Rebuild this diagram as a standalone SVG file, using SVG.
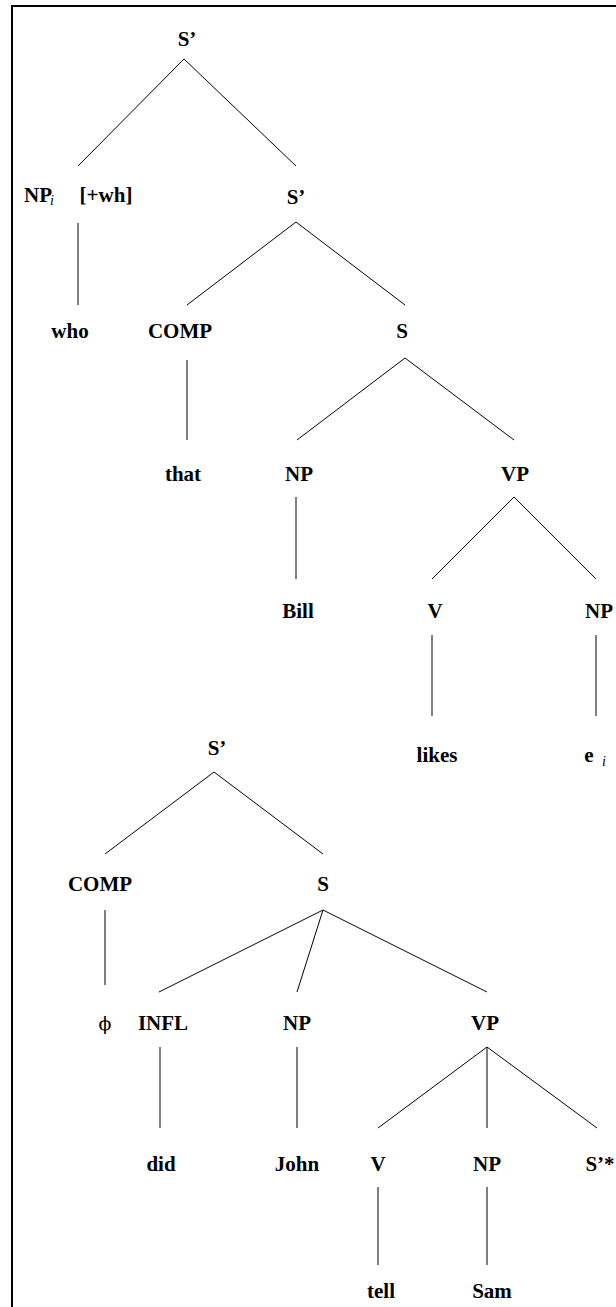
<svg xmlns="http://www.w3.org/2000/svg" width="616" height="1307" viewBox="0 0 616 1307">
<style>
.l{font-family:"Liberation Serif","Times New Roman",serif;font-weight:bold;font-size:21px;fill:#000;text-anchor:middle}
.s{font-family:"Liberation Serif","Times New Roman",serif;font-style:italic;font-size:14px;fill:#000}
.p{font-family:"DejaVu Serif",serif;font-size:19px;fill:#000;text-anchor:middle}
.e{stroke:#000;stroke-width:1;fill:none}
</style>
<rect x="0" y="0" width="616" height="1307" fill="#fff"/>
<path d="M12,1307 V6 H616" stroke="#000" stroke-width="2" fill="none"/>
<g id="connectors" class="e">
<path d="M184,59 L78,166 M184,59 L296,166"/>
<path d="M78,223 V305"/>
<path d="M296,222 L187,305 M296,222 L405,305"/>
<path d="M187,360 V440"/>
<path d="M405,358 L297,440 M405,358 L514,440"/>
<path d="M296,497 V579"/>
<path d="M514,497 L432,579 M514,497 L596,579"/>
<path d="M432,635 V716 M596,635 V716"/>
<path d="M214,772 L105,854 M214,772 L323,854"/>
<path d="M105,910 V985"/>
<path d="M323,910 L159,992 M323,910 L297,992 M323,910 L487,992"/>
<path d="M160,1047 V1128 M297,1047 V1128"/>
<path d="M487,1047 L378,1128 M487,1047 V1128 M487,1047 L597,1128"/>
<path d="M378,1187 V1265 M487,1187 V1265"/>
</g>
<g id="n-root"><text class="l" x="187" y="46">S’</text></g>
<g id="n-npi"><text class="l" x="38" y="202">NP</text><text class="s" x="50" y="205">i</text></g>
<g id="n-wh"><text class="l" x="106" y="202">[+wh]</text></g>
<g id="n-sbar2"><text class="l" x="296" y="204">S’</text></g>
<g id="n-who"><text class="l" x="70" y="338">who</text></g>
<g id="n-comp1"><text class="l" x="180" y="338">COMP</text></g>
<g id="n-s1"><text class="l" x="402" y="338">S</text></g>
<g id="n-that"><text class="l" x="183" y="481">that</text></g>
<g id="n-np1"><text class="l" x="299" y="481">NP</text></g>
<g id="n-vp1"><text class="l" x="515" y="481">VP</text></g>
<g id="n-bill"><text class="l" x="298" y="618">Bill</text></g>
<g id="n-v1"><text class="l" x="435" y="618">V</text></g>
<g id="n-np2"><text class="l" x="599" y="618">NP</text></g>
<g id="n-likes"><text class="l" x="437" y="762">likes</text></g>
<g id="n-ei"><text class="l" x="589" y="762">e</text><text class="s" x="602" y="766">i</text></g>
<g id="n-sbar3"><text class="l" x="217" y="755">S’</text></g>
<g id="n-comp2"><text class="l" x="100" y="891">COMP</text></g>
<g id="n-s2"><text class="l" x="323" y="891">S</text></g>
<g id="n-phi"><text class="p" x="105" y="1030">ϕ</text></g>
<g id="n-infl"><text class="l" x="163" y="1030">INFL</text></g>
<g id="n-np3"><text class="l" x="297" y="1030">NP</text></g>
<g id="n-vp2"><text class="l" x="485" y="1030">VP</text></g>
<g id="n-did"><text class="l" x="161" y="1171">did</text></g>
<g id="n-john"><text class="l" x="297" y="1171">John</text></g>
<g id="n-v2"><text class="l" x="378" y="1171">V</text></g>
<g id="n-np4"><text class="l" x="487" y="1171">NP</text></g>
<g id="n-sstar"><text class="l" x="600" y="1171">S’*</text></g>
<g id="n-tell"><text class="l" x="381" y="1298">tell</text></g>
<g id="n-sam"><text class="l" x="492" y="1298">Sam</text></g>
</svg>
